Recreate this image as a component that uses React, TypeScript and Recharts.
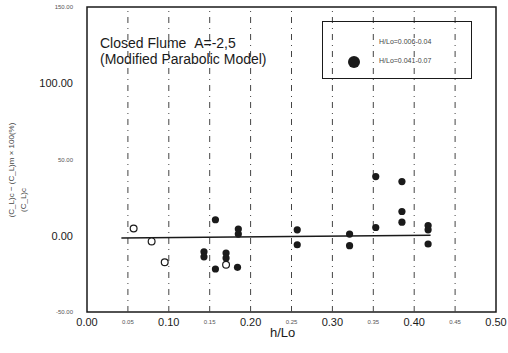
import React from 'react';
import { ComposedChart, Scatter, XAxis, YAxis, ReferenceLine, ReferenceArea } from 'recharts';

const xTicks = [0, 0.05, 0.1, 0.15, 0.2, 0.25, 0.3, 0.35, 0.4, 0.45, 0.5];
const yTicks = [-50, 0, 50, 100, 150];
const gridX = [0.05, 0.1, 0.15, 0.2, 0.25, 0.3, 0.35, 0.4, 0.45];

const lowSteepness = [
  { x: 0.057, y: 4.8 },
  { x: 0.079, y: -3.7 },
  { x: 0.095, y: -17.4 },
  { x: 0.17, y: -19 },
];

const highSteepness = [
  { x: 0.143, y: -10.5 },
  { x: 0.143, y: -13.8 },
  { x: 0.157, y: 10.5 },
  { x: 0.157, y: -21.8 },
  { x: 0.17, y: -11.3 },
  { x: 0.17, y: -14.6 },
  { x: 0.185, y: 4.4 },
  { x: 0.185, y: 1.1 },
  { x: 0.184, y: -20.7 },
  { x: 0.257, y: 3.9 },
  { x: 0.257, y: -5.9 },
  { x: 0.321, y: 1.1 },
  { x: 0.321, y: -6.5 },
  { x: 0.353, y: 38.8 },
  { x: 0.353, y: 5.4 },
  { x: 0.385, y: 35.5 },
  { x: 0.385, y: 15.9 },
  { x: 0.385, y: 8.9 },
  { x: 0.417, y: 6.7 },
  { x: 0.417, y: 3.9 },
  { x: 0.417, y: -5.4 },
];

const trend = [
  { x: 0.042, y: -1.5 },
  { x: 0.42, y: 0.3 },
];

const legendLabels = ['H/Lo=0.006-0.04', 'H/Lo=0.041-0.07'];

const INK = '#1a1a1a';
const FONT = '"Liberation Sans", Arial, sans-serif';

const XTick = (props: any) => {
  const { x, y, payload, index } = props;
  const big = index % 2 === 0;
  return (
    <text x={x} y={y + (big ? 6 : 4)} textAnchor="middle" fontFamily={FONT} fontSize={big ? 11 : 6} fill={big ? INK : '#555'}>
      {payload.value.toFixed(2)}
    </text>
  );
};

const YTick = (props: any) => {
  const { x, y, payload } = props;
  const big = payload.value === 0 || payload.value === 100;
  return (
    <text x={x - 6} y={y + (big ? 4 : 2)} textAnchor="end" fontFamily={FONT} fontSize={big ? 11 : 6} fill={big ? INK : '#555'}>
      {payload.value.toFixed(2)}
    </text>
  );
};

const Filled = (props: any) => <circle cx={props.cx} cy={props.cy} r={3.6} fill={INK} />;
const Open = (props: any) => <circle cx={props.cx} cy={props.cy} r={3.4} fill="#fff" stroke={INK} strokeWidth={1.2} />;
const NoShape = () => null;

export default function App() {
  return (
    <div style={{ position: 'absolute', left: 0, top: 0, width: 508, height: 353, background: '#fff', fontFamily: FONT }}>
      <ComposedChart width={508} height={353} margin={{ top: 7, right: 12, bottom: 11, left: 7 }}>
        <XAxis
          type="number"
          dataKey="x"
          domain={[0, 0.5]}
          ticks={xTicks}
          interval={0}
          tick={<XTick />}
          tickLine={false}
          axisLine={false}
          height={30}
        />
        <YAxis
          type="number"
          dataKey="y"
          domain={[-50, 150]}
          ticks={yTicks}
          interval={0}
          tick={<YTick />}
          tickLine={false}
          axisLine={false}
          width={80}
        />
        {gridX.map((g) => (
          <ReferenceLine key={g} x={g} stroke="#444" strokeWidth={1} strokeDasharray="6 5 1 5" />
        ))}
        <ReferenceArea x1={0} x2={0.5} y1={-50} y2={150} fill="none" stroke={INK} strokeWidth={1.5} />
        <Scatter data={trend} line={{ stroke: INK, strokeWidth: 1.6 }} shape={<NoShape />} isAnimationActive={false} />
        <Scatter data={lowSteepness} shape={<Open />} isAnimationActive={false} />
        <Scatter data={highSteepness} shape={<Filled />} isAnimationActive={false} />
      </ComposedChart>

      <div style={{ position: 'absolute', left: 100, top: 35, fontSize: 14, lineHeight: '16px', color: INK, whiteSpace: 'nowrap' }}>
        <div>Closed Flume&nbsp;&nbsp;A=-2,5</div>
        <div>(Modified Parabolic Model)</div>
      </div>

      <div style={{ position: 'absolute', left: 322, top: 21, width: 148, height: 56, border: `1.5px solid ${INK}`, background: 'transparent' }}>
        <div style={{ position: 'absolute', left: 56, top: 16, fontSize: 7, color: '#444', whiteSpace: 'nowrap', background: '#fff' }}>{legendLabels[0]}</div>
        <div style={{ position: 'absolute', left: 25, top: 34, width: 12, height: 12, borderRadius: 6, background: INK }} />
        <div style={{ position: 'absolute', left: 56, top: 35, fontSize: 7, color: '#444', whiteSpace: 'nowrap', background: '#fff' }}>{legendLabels[1]}</div>
      </div>

      <div style={{ position: 'absolute', left: 270, top: 325, fontSize: 13, color: INK }}>h/Lo</div>

      <svg style={{ position: 'absolute', left: 0, top: 0 }} width={60} height={353}>
        <text transform="translate(14,170) rotate(-90)" textAnchor="middle" fontFamily={FONT} fontSize={8} fill="#444">
          (C_L)c − (C_L)m × 100(%)
        </text>
        <text transform="translate(26,200) rotate(-90)" textAnchor="middle" fontFamily={FONT} fontSize={8} fill="#444">
          (C_L)c
        </text>
      </svg>
    </div>
  );
}
